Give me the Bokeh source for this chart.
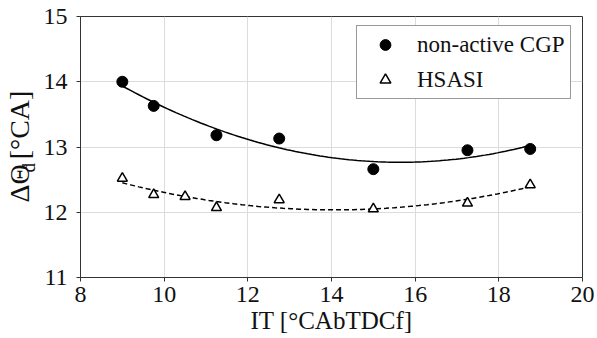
import numpy as np
from bokeh.plotting import figure
from bokeh.layouts import row
from bokeh.models import Legend, LegendItem, Label, FixedTicker
from bokeh.embed import file_html
from bokeh.resources import INLINE

# ---- data ----
it_cgp = [9.0, 9.75, 11.25, 12.75, 15.0, 17.25, 18.75]
dtheta_cgp = [14.0, 13.63, 13.18, 13.13, 12.66, 12.95, 12.97]
it_hsasi = [9.0, 9.75, 10.5, 11.25, 12.75, 15.0, 17.25, 18.75]
dtheta_hsasi = [12.52, 12.27, 12.24, 12.07, 12.19, 12.05, 12.14, 12.42]
x_ticks = [8, 10, 12, 14, 16, 18, 20]
y_ticks = [11, 12, 13, 14, 15]
series_names = ["non-active CGP", "HSASI"]
x_title = "IT [°CAbTDCf]"
y_title_parts = ["ΔΘ", "d", "[°CA]"]

FONT = "Liberation Serif"
LABEL_W = 40

p = figure(width=597 - LABEL_W, height=338, output_backend="svg", toolbar_location=None,
           x_range=(8, 20), y_range=(11, 15),
           min_border_left=77 - LABEL_W, min_border_right=15, min_border_top=16,
           min_border_bottom=61)
p.background_fill_color = "white"
p.border_fill_color = "white"
p.outline_line_color = "#333333"
p.outline_line_width = 1

for ax in (p.xaxis[0], p.yaxis[0]):
    ax.major_label_text_font = FONT
    ax.major_label_text_font_size = "24px"
    ax.major_label_text_color = "#111111"
    ax.axis_line_color = "#333333"
    ax.major_tick_line_color = "#333333"
    ax.major_tick_out = 4
    ax.major_tick_in = 0
    ax.minor_tick_line_color = None
p.xaxis.ticker = FixedTicker(ticks=x_ticks)
p.yaxis.ticker = FixedTicker(ticks=y_ticks)
p.xaxis.major_label_standoff = 5
p.yaxis.major_label_standoff = 9
p.xaxis.axis_label = x_title
p.xaxis.axis_label_text_font = FONT
p.xaxis.axis_label_text_font_size = "25px"
p.xaxis.axis_label_text_font_style = "normal"
p.xaxis.axis_label_text_color = "#111111"
p.xaxis.axis_label_standoff = 2

p.xgrid.ticker = FixedTicker(ticks=x_ticks)
p.ygrid.ticker = FixedTicker(ticks=y_ticks)
p.grid.grid_line_color = "#dcdcdc"
p.grid.grid_line_width = 1

# quadratic fits through the data
xf1 = np.linspace(min(it_cgp), max(it_cgp), 100)
c1 = np.polyfit(it_cgp, dtheta_cgp, 2)
xf2 = np.linspace(min(it_hsasi), max(it_hsasi), 100)
c2 = np.polyfit(it_hsasi, dtheta_hsasi, 2)
p.line(xf1, np.polyval(c1, xf1), line_color="black", line_width=1.5)
p.line(xf2, np.polyval(c2, xf2), line_color="black", line_width=1.5, line_dash="5 3")

r1 = p.scatter(it_cgp, dtheta_cgp, marker="circle", size=11, fill_color="black", line_color="black")
r2 = p.scatter(it_hsasi, dtheta_hsasi, marker="triangle", size=10, fill_color="white",
               line_color="black", line_width=1.5)

legend = Legend(items=[LegendItem(label=series_names[0], renderers=[r1]),
                       LegendItem(label=series_names[1], renderers=[r2])],
                location=(276, 178), orientation="vertical")
legend.label_text_font = FONT
legend.label_text_font_size = "23px"
legend.label_text_color = "#111111"
legend.border_line_color = "#333333"
legend.border_line_width = 1
legend.background_fill_alpha = 1
legend.padding = 5
legend.margin = 0
legend.spacing = 8
legend.label_height = 27
legend.glyph_height = 27
legend.glyph_width = 46
legend.label_standoff = 9
p.add_layout(legend, "center")

# separate narrow panel holding the rotated y-axis title (with subscript)
lab = figure(width=LABEL_W, height=338, output_backend="svg", toolbar_location=None,
             x_range=(0, LABEL_W), y_range=(0, 338), min_border=0,
             x_axis_type=None, y_axis_type=None)
lab.grid.visible = False
lab.outline_line_color = None
lab.border_fill_color = "white"
lab.background_fill_color = "white"
common = dict(angle=np.pi / 2, text_font=FONT, text_color="#111111",
              text_align="left", text_baseline="middle")
lab.add_layout(Label(x=19, y=97, text=y_title_parts[0], text_font_size="28px", **common))
lab.add_layout(Label(x=28, y=136, text=y_title_parts[1], text_font_size="19px", **common))
lab.add_layout(Label(x=19, y=153, text=y_title_parts[2], text_font_size="28px", **common))

layout = row(lab, p, spacing=0)
open("out.html", "w").write(file_html(layout, INLINE))
